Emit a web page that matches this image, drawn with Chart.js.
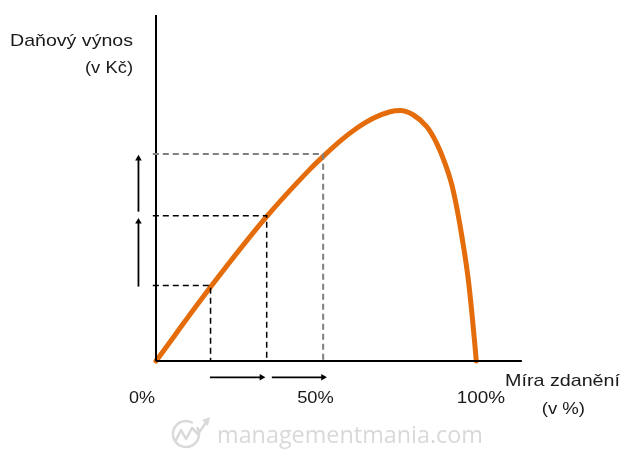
<!DOCTYPE html>
<html>
<head>
<meta charset="utf-8">
<script src="https://cdn.jsdelivr.net/npm/chart.js@4.4.1/dist/chart.umd.min.js"></script>
<style>
  html, body { margin: 0; padding: 0; background: #fff; }
  canvas { display: block; }
</style>
</head>
<body>
<canvas id="laffer" width="624" height="459"></canvas>
<script>
// Lafferova krivka (x = tax rate %, y = revenue, peak = 100)
var taxRate = [0, 17.1, 34.6, 48.3, 53.0, 57.7, 62.9, 68.1, 73.4, 76.5, 80.7, 84.9, 88.0, 90.6, 92.7, 94.4, 96.3, 97.9, 99.0, 100.0, 100.4];
var revenue = [0, 29.5, 57.5, 76.6, 82.4, 87.8, 92.9, 96.9, 99.5, 100, 98.2, 93.5, 86.9, 78.9, 70.5, 60.5, 46.5, 32.5, 19.5, 6.0, 0];

// dashed guides: rate -> revenue
var guideRate = [17.1, 34.7, 52.4];
var guideRevenue = [30.1, 58.0, 82.6];

// arrows (start, end)
var rateArrows = [[16.9, 33.1], [36.3, 52.4]];
var revenueArrows = [[29.7, 55.6], [59.6, 80.8]];

var xTicks = [0, 50, 100];
var xTickLabels = ['0%', '50%', '100%'];

var yAxisTop = 138.1;
var xAxisEnd = 114.7;

var orange = '#E46C0A';

function pts(xs, ys) {
    var out = [];
    for (var i = 0; i < xs.length; i++) out.push({ x: xs[i], y: ys[i] });
    return out;
}

var datasets = [];

// guides
for (var g = 0; g < guideRate.length; g++) {
    datasets.push({
        data: [{ x: -1, y: guideRevenue[g] }, { x: guideRate[g], y: guideRevenue[g] }, { x: guideRate[g], y: 0 }],
        borderColor: g === 2 ? '#7f7f7f' : '#000',
        borderWidth: g === 2 ? 2 : 1.5,
        borderDash: [6, 4],
        pointRadius: 0,
        tension: 0
    });
}

// axes
datasets.push({ data: [{ x: 0, y: 0 }, { x: 0, y: yAxisTop }], borderColor: '#000', borderWidth: 2, pointRadius: 0 });
datasets.push({ data: [{ x: 0, y: 0 }, { x: xAxisEnd, y: 0 }], borderColor: '#000', borderWidth: 2, pointRadius: 0 });

// arrows along the rate axis
rateArrows.forEach(function (a) {
    datasets.push({
        data: [{ x: a[0], y: -6.5 }, { x: a[1], y: -6.5 }],
        borderColor: '#000', backgroundColor: '#000', borderWidth: 1.8,
        pointStyle: 'triangle', pointRotation: 90, pointRadius: [0, 3.8], pointBorderWidth: 0
    });
});
// arrows along the revenue axis
revenueArrows.forEach(function (a) {
    datasets.push({
        data: [{ x: -5.5, y: a[0] }, { x: -5.5, y: a[1] }],
        borderColor: '#000', backgroundColor: '#000', borderWidth: 1.8,
        pointStyle: 'triangle', pointRotation: 0, pointRadius: [0, 3.8], pointBorderWidth: 0
    });
});

// the curve
datasets.push({
    data: pts(taxRate, revenue),
    borderColor: orange,
    borderWidth: 5,
    borderCapStyle: 'round',
    borderJoinStyle: 'round',
    cubicInterpolationMode: 'monotone',
    pointRadius: 0
});

datasets.forEach(function (d) { d.showLine = true; d.clip = false; d.fill = false; });

function fitText(ctx, text, x, baseline, width) {
    var w = ctx.measureText(text).width;
    ctx.save();
    ctx.translate(x, baseline);
    ctx.scale(width / w, 1);
    ctx.fillText(text, 0, 0);
    ctx.restore();
}

var labelsPlugin = {
    id: 'labels',
    afterDatasetsDraw: function (chart) {
        var ctx = chart.ctx;
        var xs = chart.scales.x;
        ctx.save();
        ctx.textAlign = 'left';
        ctx.textBaseline = 'alphabetic';
        ctx.fillStyle = '#1a1a1a';
        ctx.font = '17px "Liberation Sans", Arial, sans-serif';

        fitText(ctx, 'Daňový výnos', 10, 46, 123);
        fitText(ctx, '(v Kč)', 85, 73, 48);
        fitText(ctx, 'Míra zdanění', 505, 386, 115);
        fitText(ctx, '(v %)', 541.7, 414, 43.3);

        var widths = [26, 36.6, 48.3];
        var offsets = [-14, 0, 6];
        for (var i = 0; i < xTicks.length; i++) {
            var cx = xs.getPixelForValue(xTicks[i]) + offsets[i];
            fitText(ctx, xTickLabels[i], cx - widths[i] / 2, 403, widths[i]);
        }

        // watermark
        ctx.fillStyle = '#d9d9d9';
        ctx.font = '23px "Open Sans", sans-serif';
        fitText(ctx, 'managementmania.com', 217, 443, 266);
        ctx.strokeStyle = '#d9d9d9';
        ctx.lineWidth = 2.5;
        ctx.lineCap = 'round';
        ctx.lineJoin = 'round';
        ctx.beginPath();
        ctx.arc(186, 434, 13, -0.15 * Math.PI, -0.35 * Math.PI);
        ctx.stroke();
        ctx.beginPath();
        ctx.moveTo(176, 440);
        ctx.lineTo(181, 430);
        ctx.lineTo(186, 439);
        ctx.lineTo(192, 428);
        ctx.lineTo(198, 434);
        ctx.lineTo(207, 421);
        ctx.stroke();
        ctx.beginPath();
        ctx.moveTo(210, 417);
        ctx.lineTo(202, 420);
        ctx.lineTo(208, 426);
        ctx.closePath();
        ctx.fillStyle = '#d9d9d9';
        ctx.fill();
        ctx.restore();
    }
};

new Chart(document.getElementById('laffer'), {
    type: 'scatter',
    data: { datasets: datasets },
    options: {
        responsive: false,
        animation: false,
        devicePixelRatio: 1,
        layout: { padding: { left: 124.1, right: 101.15, top: 10.3, bottom: 72.95 } },
        scales: {
            x: { type: 'linear', min: -10, max: 115, display: false },
            y: { type: 'linear', min: -10, max: 140, display: false }
        },
        plugins: { legend: { display: false }, tooltip: { enabled: false } }
    },
    plugins: [labelsPlugin]
});
</script>
</body>
</html>
